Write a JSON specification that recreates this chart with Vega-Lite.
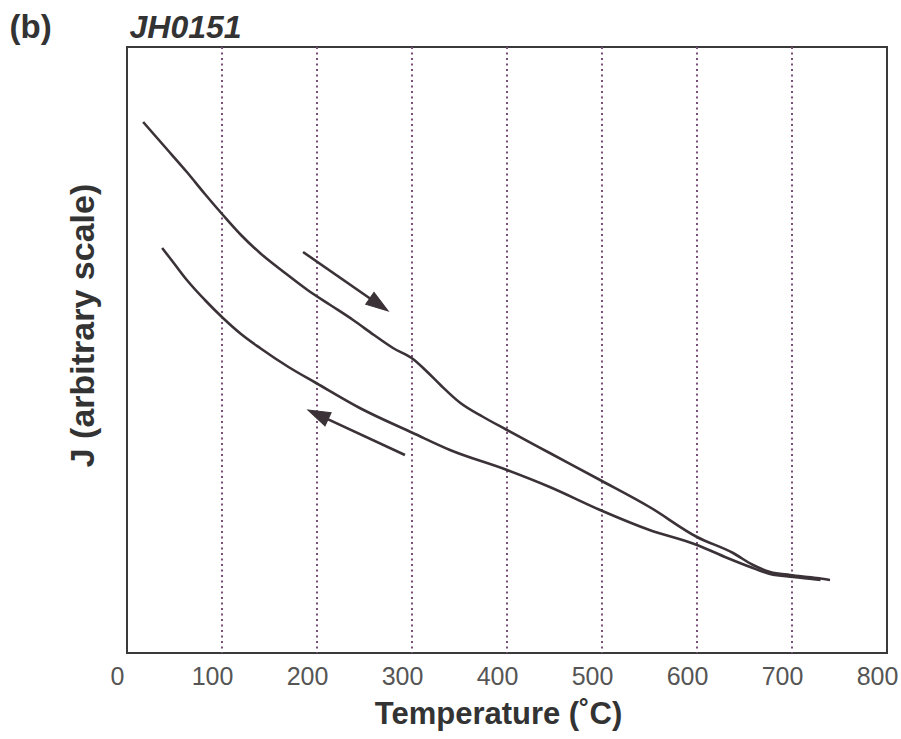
{
  "$schema": "https://vega.github.io/schema/vega-lite/v6.json",
  "width": 760,
  "height": 606,
  "autosize": {"type": "none"},
  "padding": {"left": 127, "top": 47, "right": 14, "bottom": 86},
  "background": "white",
  "config": {
    "view": {"stroke": "#3a3a3a", "strokeWidth": 2},
    "font": "Liberation Sans"
  },
  "datasets": {
    "curves": [
      {"run": "heating", "T": 17, "J": 531},
      {"run": "heating", "T": 40, "J": 506},
      {"run": "heating", "T": 63, "J": 481},
      {"run": "heating", "T": 82, "J": 459},
      {"run": "heating", "T": 101, "J": 438},
      {"run": "heating", "T": 120, "J": 418},
      {"run": "heating", "T": 140, "J": 400},
      {"run": "heating", "T": 165, "J": 381},
      {"run": "heating", "T": 190, "J": 363},
      {"run": "heating", "T": 214, "J": 348},
      {"run": "heating", "T": 238, "J": 333},
      {"run": "heating", "T": 260, "J": 318},
      {"run": "heating", "T": 280, "J": 305},
      {"run": "heating", "T": 301, "J": 294},
      {"run": "heating", "T": 314, "J": 283},
      {"run": "heating", "T": 330, "J": 268},
      {"run": "heating", "T": 351, "J": 250},
      {"run": "heating", "T": 375, "J": 236},
      {"run": "heating", "T": 400, "J": 223},
      {"run": "heating", "T": 445, "J": 200},
      {"run": "heating", "T": 498, "J": 173},
      {"run": "heating", "T": 550, "J": 146},
      {"run": "heating", "T": 600, "J": 116},
      {"run": "heating", "T": 638, "J": 100},
      {"run": "heating", "T": 659, "J": 88},
      {"run": "heating", "T": 677, "J": 81},
      {"run": "heating", "T": 698, "J": 78},
      {"run": "heating", "T": 726, "J": 75},
      {"run": "heating", "T": 740, "J": 73},
      {"run": "cooling", "T": 37, "J": 405},
      {"run": "cooling", "T": 50, "J": 389},
      {"run": "cooling", "T": 63, "J": 373},
      {"run": "cooling", "T": 82, "J": 353},
      {"run": "cooling", "T": 101, "J": 335},
      {"run": "cooling", "T": 120, "J": 319},
      {"run": "cooling", "T": 140, "J": 305},
      {"run": "cooling", "T": 170, "J": 286},
      {"run": "cooling", "T": 199, "J": 270},
      {"run": "cooling", "T": 245, "J": 245},
      {"run": "cooling", "T": 301, "J": 220},
      {"run": "cooling", "T": 340, "J": 203},
      {"run": "cooling", "T": 400, "J": 183},
      {"run": "cooling", "T": 445, "J": 166},
      {"run": "cooling", "T": 498, "J": 143},
      {"run": "cooling", "T": 550, "J": 123},
      {"run": "cooling", "T": 600, "J": 108},
      {"run": "cooling", "T": 632, "J": 95},
      {"run": "cooling", "T": 656, "J": 86},
      {"run": "cooling", "T": 677, "J": 79},
      {"run": "cooling", "T": 701, "J": 76},
      {"run": "cooling", "T": 730, "J": 73}
    ],
    "grid": [
      {"T": 100}, {"T": 200}, {"T": 300}, {"T": 400}, {"T": 500}, {"T": 600}, {"T": 700}
    ],
    "arrows": [
      {"dir": "heating", "T0": 185.3, "J0": 401, "T1": 265.3, "J1": 348.3, "angle": 124.8},
      {"dir": "cooling", "T0": 292.6, "J0": 198, "T1": 201, "J1": 238.4, "angle": 294.9}
    ]
  },
  "resolve": {"axis": {"x": "independent", "y": "independent"}},
  "layer": [
    {
      "data": {"name": "grid"},
      "mark": {"type": "rule", "stroke": "#7a4f7a", "strokeWidth": 2, "strokeDash": [2, 3.5]},
      "encoding": {
        "x": {
          "field": "T",
          "type": "quantitative",
          "scale": {"domain": [0, 800], "nice": false, "zero": false},
          "axis": {
            "orient": "top",
            "labels": false,
            "ticks": false,
            "domain": false,
            "grid": false,
            "title": "JH0151",
            "titleFont": "Liberation Sans",
            "titleFontSize": 32,
            "titleFontWeight": "bold",
            "titleFontStyle": "italic",
            "titleColor": "#333333",
            "titleAnchor": "start",
            "titleAlign": "left",
            "titleBaseline": "alphabetic",
            "titleX": 2,
            "titleY": -10
          }
        }
      }
    },
    {
      "data": {"name": "curves"},
      "mark": {"type": "line", "stroke": "#3b3238", "strokeWidth": 2.6, "interpolate": "monotone"},
      "encoding": {
        "x": {
          "field": "T",
          "type": "quantitative",
          "scale": {"domain": [0, 800], "nice": false, "zero": false},
          "axis": {
            "orient": "bottom",
            "values": [0, 100, 200, 300, 400, 500, 600, 700, 800],
            "ticks": false,
            "domain": false,
            "grid": false,
            "labelFont": "Liberation Sans",
            "labelFontSize": 25,
            "labelColor": "#555555",
            "labelPadding": 11,
            "labelOffset": -10,
            "labelFlush": false,
            "labelOverlap": false,
            "title": "Temperature (˚C)",
            "titleFont": "Liberation Sans",
            "titleFontSize": 31,
            "titleFontWeight": "bold",
            "titleColor": "#333333",
            "titleBaseline": "alphabetic",
            "titleAnchor": "middle",
            "titleX": 371,
            "titleY": 70
          }
        },
        "y": {
          "field": "J",
          "type": "quantitative",
          "scale": {"domain": [0, 606], "nice": false, "zero": false},
          "axis": {
            "labels": false,
            "ticks": false,
            "domain": false,
            "grid": false,
            "title": "J (arbitrary scale)",
            "titleFont": "Liberation Sans",
            "titleFontSize": 34,
            "titleFontWeight": "bold",
            "titleColor": "#333333",
            "titleBaseline": "alphabetic",
            "titleAngle": -90,
            "titleAlign": "center",
            "titleX": -34,
            "titleY": 278
          }
        },
        "detail": {"field": "run", "type": "nominal"}
      }
    },
    {
      "data": {"name": "arrows"},
      "mark": {"type": "rule", "stroke": "#3b3238", "strokeWidth": 2.6},
      "encoding": {
        "x": {"field": "T0", "type": "quantitative", "axis": null},
        "y": {"field": "J0", "type": "quantitative", "axis": null},
        "x2": {"field": "T1"},
        "y2": {"field": "J1"}
      }
    },
    {
      "data": {"name": "arrows"},
      "mark": {
        "type": "point",
        "shape": "M0,-1L0.65,1L-0.65,1Z",
        "filled": true,
        "fill": "#3b3238",
        "stroke": "#3b3238",
        "strokeWidth": 1,
        "opacity": 1,
        "size": 500
      },
      "encoding": {
        "x": {"field": "T1", "type": "quantitative", "axis": null},
        "y": {
          "field": "J1",
          "type": "quantitative",
          "axis": {
            "orient": "left",
            "labels": false,
            "ticks": false,
            "domain": false,
            "grid": false,
            "title": "(b)",
            "titleFont": "Liberation Sans",
            "titleFontSize": 33,
            "titleFontWeight": "bold",
            "titleColor": "#333333",
            "titleAngle": 0,
            "titleAlign": "left",
            "titleBaseline": "alphabetic",
            "titleX": -118,
            "titleY": -10
          }
        },
        "angle": {"field": "angle", "type": "quantitative", "scale": null}
      }
    }
  ]
}
